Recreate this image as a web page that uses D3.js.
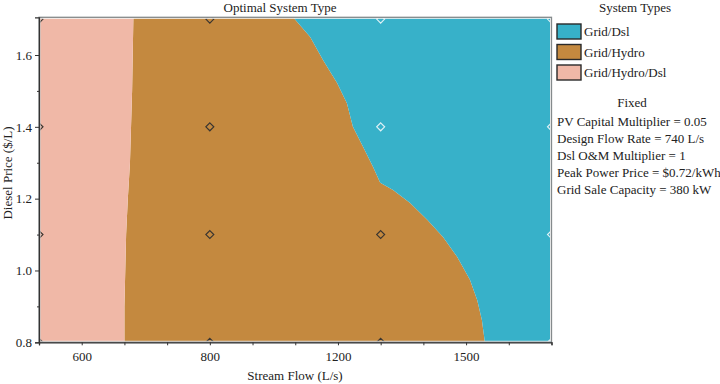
<!DOCTYPE html>
<html><head><meta charset="utf-8">
<script src="https://cdn.jsdelivr.net/npm/d3@7"></script>
<style>body{margin:0;background:#fff}svg{display:block}text{font-family:"Liberation Serif","Times New Roman",serif;fill:#222}</style>
</head><body><svg id="c" width="720" height="384"></svg>
<script>
// x positions are sensitivity-grid indices (axis is index based); labels at some indices
const xTickIndex = [0,1,2,3,4,5,6,7,8,9,10,11,12];
const xTickLabels = ["","600","","","800","","","1200","","","1500","",""];
const yMajorTicks = [0.8,1.0,1.2,1.4,1.6];
const yMinorTicks = [0.9,1.1,1.3,1.5];
// boundary Grid/Hydro/Dsl | Grid/Hydro  (diesel price, x index)
const boundaryPinkY = [1.705,1.5,1.3,1.2,1.1,0.9,0.8];
const boundaryPinkX = [2.21,2.18,2.13,2.08,2.04,2.00,2.00];
// boundary Grid/Hydro | Grid/Dsl
const boundaryCyanY = [1.705,1.65,1.586,1.522,1.466,1.40,1.344,1.289,1.244,1.224,1.188,1.141,1.093,1.038,0.974,0.918,0.862,0.80];
const boundaryCyanX = [5.95,6.35,6.65,6.98,7.21,7.35,7.59,7.82,7.99,8.29,8.69,9.09,9.46,9.79,10.09,10.26,10.37,10.44];
// sensitivity grid points and optimal type
const gridX = [0,4,8,12];
const gridY = [0.8,1.1,1.4,1.7];
const gridType = [ // rows by gridY, cols by gridX
  ["Grid/Hydro/Dsl","Grid/Hydro","Grid/Hydro","Grid/Dsl"],
  ["Grid/Hydro/Dsl","Grid/Hydro","Grid/Hydro","Grid/Dsl"],
  ["Grid/Hydro/Dsl","Grid/Hydro","Grid/Dsl","Grid/Dsl"],
  ["Grid/Hydro/Dsl","Grid/Hydro","Grid/Dsl","Grid/Dsl"]
];
const types = ["Grid/Dsl","Grid/Hydro","Grid/Hydro/Dsl"];
const typeColors = ["#37b1c9","#c4893f","#f0b8a7"];
const fixedLines = ["PV Capital Multiplier = 0.05","Design Flow Rate = 740 L/s","Dsl O&M Multiplier = 1","Peak Power Price = $0.72/kWh","Grid Sale Capacity = 380 kW"];

const svg = d3.select("#c");
const L=39, R=551.5, T=17.3, B=342.3;
const x = d3.scaleLinear().domain([0,12]).range([L,R]);
const y = d3.scaleLinear().domain([0.8,1.705]).range([B,T]);
const color = d3.scaleOrdinal().domain(types).range(typeColors);

svg.append("defs").append("clipPath").attr("id","pc").append("rect")
  .attr("x",L).attr("y",T).attr("width",R-L).attr("height",B-T);
const g = svg.append("g").attr("clip-path","url(#pc)");

const pink = boundaryPinkY.map((v,i)=>[boundaryPinkX[i],v]);
const cyan = boundaryCyanY.map((v,i)=>[boundaryCyanX[i],v]);
const line = d3.line().x(d=>x(d[0])).y(d=>y(d[1]));
const yMax = 1.705;
const polyPink = [[0,yMax]].concat(pink).concat([[0,0.8]]);
const polyBrown = pink.concat([[boundaryCyanX[boundaryCyanX.length-1],0.8]]).concat(cyan.slice().reverse());
const polyCyan = cyan.concat([[12,0.8],[12,yMax]]);
g.append("path").attr("d",line(polyBrown)+"Z").attr("fill",color("Grid/Hydro"));
g.append("path").attr("d",line(polyPink)+"Z").attr("fill",color("Grid/Hydro/Dsl"));
g.append("path").attr("d",line(polyCyan)+"Z").attr("fill",color("Grid/Dsl"));

// markers
const pts = [];
gridY.forEach((yy,r)=>gridX.forEach((xx,c)=>pts.push({x:xx,y:yy,t:gridType[r][c]})));
g.selectAll("path.m").data(pts).join("path").attr("class","m")
  .attr("d",d3.symbol(d3.symbolDiamond2,40)())
  .attr("transform",d=>`translate(${x(d.x)},${y(d.y)})`)
  .attr("fill","none").attr("stroke",d=>d.t==="Grid/Dsl"?"#dff1f6":"#3a3530").attr("stroke-width",1.2);

// frame
svg.append("rect").attr("x",L+1).attr("y",T+1).attr("width",R-L-2).attr("height",B-T-2)
  .attr("fill","none").attr("stroke","#f4f4f4").attr("stroke-width",1);
svg.append("rect").attr("x",L).attr("y",T).attr("width",R-L).attr("height",B-T)
  .attr("fill","none").attr("stroke","#858a8c").attr("stroke-width",1.3);

// axes
const xa = svg.append("g").attr("transform",`translate(0,${B})`)
  .call(d3.axisBottom(x).tickValues(xTickIndex).tickFormat(i=>xTickLabels[i]).tickSize(3).tickPadding(6));
xa.select(".domain").attr("stroke","#333").attr("stroke-width",1.3);
xa.selectAll(".tick line").attr("stroke","#333");
xa.selectAll("text").attr("font-size",13).attr("font-family","Liberation Serif").attr("fill","#222");

const ya = svg.append("g").attr("transform",`translate(${L},0)`)
  .call(d3.axisLeft(y).tickValues(yMajorTicks).tickFormat(d3.format(".1f")).tickSize(4).tickPadding(3));
ya.select(".domain").attr("stroke","#333").attr("stroke-width",1.3);
ya.selectAll(".tick line").attr("stroke","#333");
ya.selectAll("text").attr("font-size",13).attr("font-family","Liberation Serif").attr("fill","#222");
svg.append("g").attr("transform",`translate(${L},0)`)
  .call(d3.axisLeft(y).tickValues(yMinorTicks).tickFormat("").tickSize(2))
  .call(s=>s.select(".domain").remove()).selectAll("line").attr("stroke","#333");

// titles
svg.append("text").attr("x",280).attr("y",12).attr("text-anchor","middle").attr("font-size",13).text("Optimal System Type");
svg.append("text").attr("x",295).attr("y",380).attr("text-anchor","middle").attr("font-size",13).text("Stream Flow (L/s)");
svg.append("text").attr("transform","translate(12,173) rotate(-90)").attr("text-anchor","middle").attr("font-size",13).text("Diesel Price ($/L)");

// legend
svg.append("text").attr("x",635).attr("y",12).attr("text-anchor","middle").attr("font-size",13).text("System Types");
const lg = svg.append("g");
types.forEach((t,i)=>{
  const yy = 24 + i*20.5;
  lg.append("rect").attr("x",557).attr("y",yy).attr("width",24).attr("height",15)
    .attr("fill",color(t)).attr("stroke","#2a2a2a").attr("stroke-width",1.4);
  lg.append("text").attr("x",584).attr("y",yy+12).attr("font-size",13).text(t);
});
svg.append("text").attr("x",632).attr("y",107).attr("text-anchor","middle").attr("font-size",13).text("Fixed");
fixedLines.forEach((s,i)=>{
  svg.append("text").attr("x",557).attr("y",126+i*17).attr("font-size",13).text(s);
});
</script></body></html>
